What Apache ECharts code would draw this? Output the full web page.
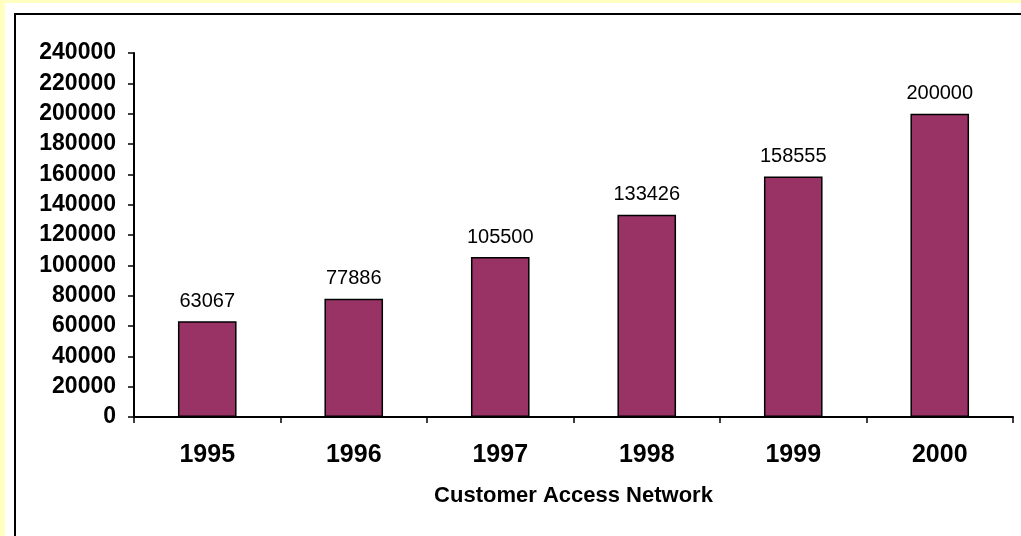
<!DOCTYPE html>
<html>
<head>
<meta charset="utf-8">
<script src="https://cdn.jsdelivr.net/npm/echarts@6/dist/echarts.min.js"></script>
<style>
  html, body { margin: 0; padding: 0; background: #FFFFC0; }
  #sheet { position: absolute; left: 5px; top: 3px; right: 0; bottom: 0; background: #fff; }
  #frame { position: absolute; left: 14px; top: 13px; right: -10px; bottom: -10px;
           border-left: 2.5px solid #000; border-top: 2px solid #000; }
  #chart { position: absolute; left: 0; top: 0; width: 1021px; height: 536px; }
</style>
</head>
<body>
<div id="sheet"></div>
<div id="frame"></div>
<div id="chart"></div>
<script>
// Customer Access Network, per year
const years = ['1995', '1996', '1997', '1998', '1999', '2000'];
const customers = [63067, 77886, 105500, 133426, 158555, 200000];
const yMax = 240000;
const yStep = 20000;

const font = 'Liberation Sans, Arial, Helvetica, sans-serif';

let myChart = echarts.init(document.getElementById('chart'));
myChart.setOption({
  animation: false,
  backgroundColor: 'transparent',
  grid: {
    left: 134,
    right: 8,
    top: 53,
    bottom: 119
  },
  xAxis: {
    type: 'category',
    data: years,
    name: 'Customer Access Network',
    nameLocation: 'middle',
    nameGap: 68,
    nameTextStyle: { fontFamily: font, fontWeight: 'bold', fontSize: 22, color: '#000' },
    axisLine: { lineStyle: { color: '#000', width: 2 } },
    axisTick: { show: true, alignWithLabel: false, interval: 0, length: 6, lineStyle: { color: '#000', width: 1.5 } },
    axisLabel: { margin: 26, fontFamily: font, fontWeight: 'bold', fontSize: 25, color: '#000' }
  },
  yAxis: {
    type: 'value',
    min: 0,
    max: yMax,
    interval: yStep,
    splitLine: { show: false },
    axisLine: { show: true, lineStyle: { color: '#000', width: 2 } },
    axisTick: { show: true, length: 6, lineStyle: { color: '#000', width: 1.5 } },
    axisLabel: {
      margin: 18, fontFamily: font, fontWeight: 'bold', fontSize: 23, color: '#000',
      formatter: v => String(v)
    }
  },
  series: [
    {
      type: 'bar',
      data: customers,
      barCategoryGap: '60%',
      itemStyle: { color: '#993366', borderColor: '#000', borderWidth: 1.5 },
      label: {
        show: true,
        position: 'top',
        distance: 10,
        fontFamily: font,
        fontSize: 20,
        color: '#000'
      }
    }
  ]
});
</script>
</body>
</html>
